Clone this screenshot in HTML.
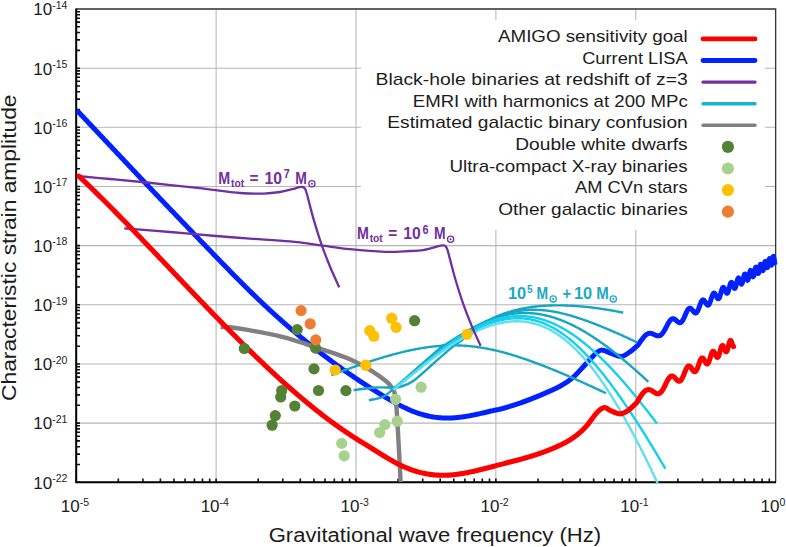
<!DOCTYPE html><html><head><meta charset="utf-8"><style>html,body{margin:0;padding:0;background:#fff;width:786px;height:547px;overflow:hidden}svg{display:block}text{font-family:"Liberation Sans",sans-serif;fill:#1c1c1c}</style></head><body>
<svg width="786" height="547" viewBox="0 0 786 547">
<path d="M76.2,9.0V482.3M216.1,9.0V482.3M356.0,9.0V482.3M495.9,9.0V482.3M635.8,9.0V482.3M775.7,9.0V482.3M76.2,9.0H775.7M76.2,68.2H775.7M76.2,127.3H775.7M76.2,186.5H775.7M76.2,245.6H775.7M76.2,304.8H775.7M76.2,364.0H775.7M76.2,423.1H775.7M76.2,482.3H775.7" stroke="#b6b6b6" stroke-width="1.05" fill="none"/>
<rect x="361" y="20" width="404" height="210" fill="#fff"/>
<path d="M76,68.2H80M76,50.4H80M76,39.9H80M76,32.5H80M76,26.8H80M76,22.1H80M76,18.2H80M76,14.7H80M76,11.7H80M76,127.3H80M76,109.5H80M76,99.1H80M76,91.7H80M76,86.0H80M76,81.3H80M76,77.3H80M76,73.9H80M76,70.9H80M76,186.5H80M76,168.7H80M76,158.3H80M76,150.9H80M76,145.1H80M76,140.4H80M76,136.5H80M76,133.1H80M76,130.0H80M76,245.6H80M76,227.8H80M76,217.4H80M76,210.0H80M76,204.3H80M76,199.6H80M76,195.6H80M76,192.2H80M76,189.2H80M76,304.8H80M76,287.0H80M76,276.6H80M76,269.2H80M76,263.4H80M76,258.8H80M76,254.8H80M76,251.4H80M76,248.3H80M76,364.0H80M76,346.2H80M76,335.7H80M76,328.3H80M76,322.6H80M76,317.9H80M76,314.0H80M76,310.5H80M76,307.5H80M76,423.1H80M76,405.3H80M76,394.9H80M76,387.5H80M76,381.8H80M76,377.1H80M76,373.1H80M76,369.7H80M76,366.7H80M76,482.3H80M76,464.5H80M76,454.1H80M76,446.7H80M76,440.9H80M76,436.2H80M76,432.3H80M76,428.9H80M76,425.8H80M76.2,482V478.6M118.3,482V478.6M142.9,482V478.6M160.4,482V478.6M174.0,482V478.6M185.1,482V478.6M194.4,482V478.6M202.5,482V478.6M209.7,482V478.6M216.1,482V478.6M258.2,482V478.6M282.8,482V478.6M300.3,482V478.6M313.9,482V478.6M325.0,482V478.6M334.3,482V478.6M342.4,482V478.6M349.6,482V478.6M356.0,482V478.6M398.1,482V478.6M422.7,482V478.6M440.2,482V478.6M453.8,482V478.6M464.9,482V478.6M474.2,482V478.6M482.3,482V478.6M489.5,482V478.6M495.9,482V478.6M538.0,482V478.6M562.6,482V478.6M580.1,482V478.6M593.7,482V478.6M604.8,482V478.6M614.1,482V478.6M622.2,482V478.6M629.4,482V478.6M635.8,482V478.6M677.9,482V478.6M702.5,482V478.6M720.0,482V478.6M733.6,482V478.6M744.7,482V478.6M754.0,482V478.6M762.1,482V478.6M769.3,482V478.6" stroke="#111" stroke-width="1.6" fill="none"/>
<path d="M76.2,9H775.6V482.3" stroke="#3a3a3a" stroke-width="1.3" fill="none"/>
<path d="M76.2,8.5V482.3H776" stroke="#000" stroke-width="2" fill="none"/>
<path d="M77.00,110.44 L78.00,111.50 L79.00,112.56 L80.00,113.62 L81.00,114.68 L82.00,115.74 L83.00,116.80 L84.00,117.86 L85.00,118.92 L86.00,119.99 L87.00,121.05 L88.00,122.11 L89.00,123.17 L90.00,124.23 L91.00,125.30 L92.00,126.36 L93.00,127.42 L94.00,128.49 L95.00,129.55 L96.00,130.61 L97.00,131.68 L98.00,132.74 L99.00,133.80 L100.00,134.87 L101.00,135.93 L102.00,136.99 L103.00,138.06 L104.00,139.12 L105.00,140.19 L106.00,141.25 L107.00,142.31 L108.00,143.38 L109.00,144.44 L110.00,145.51 L111.00,146.57 L112.00,147.63 L113.00,148.70 L114.00,149.76 L115.00,150.82 L116.00,151.89 L117.00,152.95 L118.00,154.01 L119.00,155.08 L120.00,156.14 L121.00,157.20 L122.00,158.26 L123.00,159.33 L124.00,160.39 L125.00,161.45 L126.00,162.51 L127.00,163.57 L128.00,164.63 L129.00,165.70 L130.00,166.76 L131.00,167.82 L132.00,168.88 L133.00,169.94 L134.00,171.00 L135.00,172.06 L136.00,173.12 L137.00,174.17 L138.00,175.23 L139.00,176.29 L140.00,177.35 L141.00,178.41 L142.00,179.46 L143.00,180.52 L144.00,181.57 L145.00,182.63 L146.00,183.69 L147.00,184.74 L148.00,185.80 L149.00,186.85 L150.00,187.90 L151.00,188.96 L152.00,190.01 L153.00,191.06 L154.00,192.11 L155.00,193.16 L156.00,194.22 L157.00,195.27 L158.00,196.32 L159.00,197.37 L160.00,198.42 L161.00,199.47 L162.00,200.51 L163.00,201.56 L164.00,202.61 L165.00,203.66 L166.00,204.71 L167.00,205.75 L168.00,206.80 L169.00,207.85 L170.00,208.89 L171.00,209.94 L172.00,210.98 L173.00,212.03 L174.00,213.07 L175.00,214.12 L176.00,215.16 L177.00,216.20 L178.00,217.25 L179.00,218.29 L180.00,219.33 L181.00,220.38 L182.00,221.42 L183.00,222.46 L184.00,223.50 L185.00,224.55 L186.00,225.59 L187.00,226.63 L188.00,227.67 L189.00,228.71 L190.00,229.75 L191.00,230.79 L192.00,231.83 L193.00,232.87 L194.00,233.91 L195.00,234.95 L196.00,235.99 L197.00,237.03 L198.00,238.07 L199.00,239.11 L200.00,240.15 L201.00,241.19 L202.00,242.23 L203.00,243.27 L204.00,244.30 L205.00,245.34 L206.00,246.38 L207.00,247.42 L208.00,248.46 L209.00,249.49 L210.00,250.53 L211.00,251.57 L212.00,252.61 L213.00,253.64 L214.00,254.68 L215.00,255.71 L216.00,256.75 L217.00,257.78 L218.00,258.81 L219.00,259.85 L220.00,260.88 L221.00,261.91 L222.00,262.94 L223.00,263.97 L224.00,265.00 L225.00,266.02 L226.00,267.05 L227.00,268.07 L228.00,269.10 L229.00,270.12 L230.00,271.14 L231.00,272.16 L232.00,273.18 L233.00,274.19 L234.00,275.21 L235.00,276.22 L236.00,277.23 L237.00,278.24 L238.00,279.25 L239.00,280.25 L240.00,281.26 L241.00,282.26 L242.00,283.26 L243.00,284.26 L244.00,285.25 L245.00,286.25 L246.00,287.24 L247.00,288.23 L248.00,289.22 L249.00,290.20 L250.00,291.18 L251.00,292.16 L252.00,293.14 L253.00,294.11 L254.00,295.09 L255.00,296.05 L256.00,297.02 L257.00,297.99 L258.00,298.95 L259.00,299.90 L260.00,300.86 L261.00,301.81 L262.00,302.76 L263.00,303.71 L264.00,304.65 L265.00,305.59 L266.00,306.52 L267.00,307.46 L268.00,308.39 L269.00,309.31 L270.00,310.24 L271.00,311.16 L272.00,312.07 L273.00,312.99 L274.00,313.90 L275.00,314.81 L276.00,315.71 L277.00,316.61 L278.00,317.51 L279.00,318.41 L280.00,319.30 L281.00,320.19 L282.00,321.07 L283.00,321.95 L284.00,322.83 L285.00,323.71 L286.00,324.58 L287.00,325.45 L288.00,326.32 L289.00,327.18 L290.00,328.04 L291.00,328.90 L292.00,329.76 L293.00,330.61 L294.00,331.46 L295.00,332.30 L296.00,333.14 L297.00,333.98 L298.00,334.82 L299.00,335.65 L300.00,336.48 L301.00,337.31 L302.00,338.14 L303.00,338.96 L304.00,339.78 L305.00,340.59 L306.00,341.41 L307.00,342.22 L308.00,343.02 L309.00,343.83 L310.00,344.63 L311.00,345.43 L312.00,346.22 L313.00,347.01 L314.00,347.80 L315.00,348.59 L316.00,349.37 L317.00,350.15 L318.00,350.93 L319.00,351.71 L320.00,352.48 L321.00,353.25 L322.00,354.02 L323.00,354.78 L324.00,355.54 L325.00,356.30 L326.00,357.06 L327.00,357.81 L328.00,358.56 L329.00,359.31 L330.00,360.05 L331.00,360.79 L332.00,361.53 L333.00,362.27 L334.00,363.00 L335.00,363.73 L336.00,364.46 L337.00,365.18 L338.00,365.91 L339.00,366.63 L340.00,367.34 L341.00,368.06 L342.00,368.77 L343.00,369.48 L344.00,370.19 L345.00,370.89 L346.00,371.59 L347.00,372.29 L348.00,372.98 L349.00,373.68 L350.00,374.37 L351.00,375.06 L352.00,375.74 L353.00,376.42 L354.00,377.10 L355.00,377.78 L356.00,378.46 L357.00,379.13 L358.00,379.80 L359.00,380.47 L360.00,381.13 L361.00,381.79 L362.00,382.45 L363.00,383.11 L364.00,383.77 L365.00,384.42 L366.00,385.07 L367.00,385.71 L368.00,386.36 L369.00,387.00 L370.00,387.64 L371.00,388.28 L372.00,388.91 L373.00,389.55 L374.00,390.18 L375.00,390.80 L376.00,391.43 L377.00,392.05 L378.00,392.67 L379.00,393.29 L380.00,393.90 L381.00,394.52 L382.00,395.13 L383.00,395.74 L384.00,396.34 L385.00,396.94 L386.00,397.54 L387.00,398.13 L388.00,398.72 L389.00,399.30 L390.00,399.88 L391.00,400.46 L392.00,401.03 L393.00,401.59 L394.00,402.15 L395.00,402.71 L396.00,403.25 L397.00,403.79 L398.00,404.33 L399.00,404.85 L400.00,405.37 L401.00,405.88 L402.00,406.39 L403.00,406.88 L404.00,407.37 L405.00,407.85 L406.00,408.32 L407.00,408.78 L408.00,409.24 L409.00,409.68 L410.00,410.11 L411.00,410.53 L412.00,410.95 L413.00,411.35 L414.00,411.74 L415.00,412.12 L416.00,412.49 L417.00,412.85 L418.00,413.19 L419.00,413.53 L420.00,413.85 L421.00,414.16 L422.00,414.46 L423.00,414.74 L424.00,415.02 L425.00,415.28 L426.00,415.53 L427.00,415.77 L428.00,415.99 L429.00,416.21 L430.00,416.41 L431.00,416.60 L432.00,416.78 L433.00,416.95 L434.00,417.10 L435.00,417.25 L436.00,417.38 L437.00,417.50 L438.00,417.61 L439.00,417.70 L440.00,417.79 L441.00,417.86 L442.00,417.93 L443.00,417.98 L444.00,418.02 L445.00,418.04 L446.00,418.06 L447.00,418.06 L448.00,418.06 L449.00,418.04 L450.00,418.01 L451.00,417.98 L452.00,417.93 L453.00,417.88 L454.00,417.81 L455.00,417.73 L456.00,417.65 L457.00,417.56 L458.00,417.46 L459.00,417.35 L460.00,417.23 L461.00,417.11 L462.00,416.98 L463.00,416.84 L464.00,416.69 L465.00,416.54 L466.00,416.38 L467.00,416.22 L468.00,416.05 L469.00,415.87 L470.00,415.69 L471.00,415.50 L472.00,415.31 L473.00,415.11 L474.00,414.91 L475.00,414.71 L476.00,414.50 L477.00,414.28 L478.00,414.07 L479.00,413.85 L480.00,413.63 L481.00,413.40 L482.00,413.17 L483.00,412.94 L484.00,412.71 L485.00,412.48 L486.00,412.24 L487.00,412.01 L488.00,411.77 L489.00,411.53 L490.00,411.29 L491.00,411.05 L492.00,410.82 L493.00,410.58 L494.00,410.34 L495.00,410.10 L496.00,409.87 L496.00,410.20 C501.83,408.68 512.67,405.57 520.00,403.10 C527.33,400.63 533.33,398.20 540.00,395.40 C546.67,392.60 554.53,389.27 560.00,386.30 C565.47,383.33 568.53,381.28 572.80,377.60 C577.07,373.92 582.18,367.82 585.60,364.20 C589.02,360.58 590.73,358.25 593.30,355.90 C595.87,353.55 598.02,350.53 601.00,350.10 C603.98,349.67 607.78,352.23 611.20,353.30 C614.62,354.37 618.08,356.93 621.50,356.50 C624.92,356.07 630.00,351.67 631.70,350.70 L638.00,345.19 L638.50,344.45 L639.00,343.71 L639.50,342.97 L640.00,342.22 L640.50,341.49 L641.00,340.76 L641.50,340.05 L642.00,339.35 L642.50,338.68 L643.00,338.03 L643.50,337.41 L644.00,336.82 L644.50,336.27 L645.00,335.76 L645.50,335.29 L646.00,334.87 L646.50,334.49 L647.00,334.17 L647.50,333.89 L648.00,333.67 L648.50,333.50 L649.00,333.38 L649.50,333.31 L650.00,333.29 L650.50,333.31 L651.00,333.38 L651.50,333.49 L652.00,333.64 L652.50,333.82 L653.00,334.02 L653.50,334.24 L654.00,334.47 L654.50,334.71 L655.00,334.94 L655.50,335.17 L656.00,335.37 L656.50,335.56 L657.00,335.70 L657.50,335.81 L658.00,335.87 L658.50,335.87 L659.00,335.81 L659.50,335.68 L660.00,335.48 L660.50,335.21 L661.00,334.86 L661.50,334.43 L662.00,333.92 L662.50,333.33 L663.00,332.67 L663.50,331.94 L664.00,331.15 L664.50,330.30 L665.00,329.41 L665.50,328.48 L666.00,327.53 L666.50,326.56 L667.00,325.60 L667.50,324.65 L668.00,323.73 L668.50,322.85 L669.00,322.03 L669.50,321.27 L670.00,320.60 L670.50,320.02 L671.00,319.53 L671.50,319.15 L672.00,318.88 L672.50,318.73 L673.00,318.68 L673.50,318.73 L674.00,318.89 L674.50,319.14 L675.00,319.46 L675.50,319.84 L676.00,320.27 L676.50,320.72 L677.00,321.17 L677.50,321.60 L678.00,321.99 L678.50,322.32 L679.00,322.56 L679.50,322.70 L680.00,322.72 L680.50,322.61 L681.00,322.35 L681.50,321.95 L682.00,321.40 L682.50,320.70 L683.00,319.87 L683.50,318.92 L684.00,317.87 L684.50,316.75 L685.00,315.59 L685.50,314.41 L686.00,313.24 L686.50,312.13 L687.00,311.11 L687.50,310.19 L688.00,309.43 L688.50,308.82 L689.00,308.40 L689.50,308.16 L690.00,308.12 L690.50,308.26 L691.00,308.57 L691.50,309.02 L692.00,309.58 L692.50,310.21 L693.00,310.88 L693.50,311.52 L694.00,312.10 L694.50,312.57 L695.00,312.88 L695.50,313.00 L696.00,312.90 L696.50,312.57 L697.00,312.00 L697.50,311.20 L698.00,310.19 L698.50,309.01 L699.00,307.70 L699.50,306.33 L700.00,304.94 L700.50,303.62 L701.00,302.42 L701.50,301.40 L702.00,300.61 L702.50,300.09 L703.00,299.86 L703.50,299.92 L704.00,300.25 L704.50,300.82 L705.00,301.55 L705.50,302.40 L706.00,303.26 L706.50,304.06 L707.00,304.71 L707.50,305.13 L708.00,305.26 L708.50,305.05 L709.00,304.50 L709.50,303.60 L710.00,302.41 L710.50,300.99 L711.00,299.44 L711.50,297.85 L712.00,296.34 L712.50,295.02 L713.00,293.99 L713.50,293.33 L714.00,293.06 L714.50,293.21 L715.00,293.73 L715.50,294.55 L716.00,295.56 L716.50,296.63 L717.00,297.61 L717.50,298.36 L718.00,298.77 L718.50,298.75 L719.00,298.25 L719.50,297.28 L720.00,295.91 L720.50,294.26 L721.00,292.47 L721.50,290.73 L722.00,289.22 L722.50,288.08 L723.00,287.43 L723.50,287.33 L724.00,287.77 L724.50,288.65 L725.00,289.82 L725.50,291.08 L726.00,292.21 L726.50,293.01 L727.00,293.31 L727.50,292.99 L728.00,292.06 L728.50,290.58 L729.00,288.73 L729.50,286.75 L730.00,284.89 L730.50,283.42 L731.00,282.52 L731.50,282.32 L732.00,282.82 L732.50,283.87 L733.00,285.27 L733.50,286.70 L734.00,287.85 L734.50,288.45 L735.00,288.30 L735.50,287.36 L736.00,285.73 L736.50,283.67 L737.00,281.50 L737.50,279.62 L738.00,278.34 L738.50,277.89 L739.00,278.32 L739.50,279.48 L740.00,281.06 L740.50,282.65 L741.00,283.81 L741.50,284.19 L742.00,283.61 L742.50,282.10 L743.00,279.95 L743.50,277.59 L744.00,275.53 L744.50,274.23 L745.00,273.97 L745.50,274.74 L746.00,276.29 L746.50,278.12 L747.00,279.64 L747.50,280.33 L748.00,279.88 L748.50,278.31 L749.00,275.96 L749.50,273.43 L750.00,271.40 L750.50,270.40 L751.00,270.68 L751.50,272.08 L752.00,274.05 L752.50,275.87 L753.00,276.80 L753.50,276.40 L754.00,274.67 L754.50,272.09 L755.00,269.45 L755.50,267.59 L756.00,267.10 L756.50,268.08 L757.00,270.07 L757.50,272.20 L758.00,273.49 L758.50,273.30 L759.00,271.54 L759.50,268.77 L760.00,266.01 L760.50,264.30 L761.00,264.27 L761.50,265.83 L762.00,268.17 L762.50,270.11 L763.00,270.59 L763.50,269.21 L764.00,266.43 L764.50,263.43 L765.00,261.52 L765.50,261.52 L766.00,263.31 L766.50,265.85 L767.00,267.65 L767.50,267.57 L768.00,265.45 L768.50,262.23 L769.00,259.52 L769.50,258.68 L770.00,260.06 L770.50,262.71 L771.00,264.89 L771.50,265.10 L772.00,262.96 L772.50,259.57 L773.00,256.85 L773.50,256.35 L774.00,258.24 L774.50,261.11 L775.00,262.84 L775.50,262.00" stroke="#0022ff" stroke-width="5.0" fill="none" stroke-linejoin="round"/>
<path d="M220.60,327.00 C222.17,327.05 225.23,326.77 230.00,327.30 C234.77,327.83 240.67,328.65 249.20,330.20 C257.73,331.75 271.60,334.25 281.20,336.60 C290.80,338.95 299.50,342.02 306.80,344.30 C314.10,346.58 317.73,347.77 325.00,350.30 C332.27,352.83 342.77,356.15 350.40,359.50 C358.03,362.85 364.85,366.78 370.80,370.40 C376.75,374.02 382.70,378.48 386.10,381.20 C389.50,383.92 389.80,384.82 391.20,386.70 C392.60,388.58 393.65,389.45 394.50,392.50 C395.35,395.55 395.68,397.70 396.30,405.00 C396.92,412.30 397.67,427.13 398.20,436.30 C398.73,445.47 399.10,452.38 399.50,460.00 C399.90,467.62 400.42,478.33 400.60,482.00" stroke="#808080" stroke-width="4.4" fill="none"/>
<path d="M331.40,375.18 L332.40,374.80 L333.40,374.43 L334.40,374.05 L335.40,373.67 L336.40,373.30 L337.40,372.92 L338.40,372.55 L339.40,372.18 L340.40,371.81 L341.40,371.44 L342.40,371.07 L343.40,370.70 L344.40,370.34 L345.40,369.97 L346.40,369.61 L347.40,369.24 L348.40,368.88 L349.40,368.52 L350.40,368.17 L351.40,367.81 L352.40,367.45 L353.40,367.10 L354.40,366.75 L355.40,366.39 L356.40,366.04 L357.40,365.70 L358.40,365.35 L359.40,365.00 L360.40,364.66 L361.40,364.32 L362.40,363.98 L363.40,363.64 L364.40,363.30 L365.40,362.97 L366.40,362.63 L367.40,362.30 L368.40,361.97 L369.40,361.64 L370.40,361.32 L371.40,360.99 L372.40,360.67 L373.40,360.35 L374.40,360.03 L375.40,359.72 L376.40,359.40 L377.40,359.09 L378.40,358.78 L379.40,358.47 L380.40,358.17 L381.40,357.87 L382.40,357.56 L383.40,357.27 L384.40,356.97 L385.40,356.68 L386.40,356.39 L387.40,356.10 L388.40,355.81 L389.40,355.53 L390.40,355.25 L391.40,354.97 L392.40,354.70 L393.40,354.43 L394.40,354.16 L395.40,353.89 L396.40,353.63 L397.40,353.37 L398.40,353.11 L399.40,352.86 L400.40,352.61 L401.40,352.36 L402.40,352.11 L403.40,351.87 L404.40,351.64 L405.40,351.40 L406.40,351.17 L407.40,350.95 L408.40,350.72 L409.40,350.50 L410.40,350.29 L411.40,350.08 L412.40,349.87 L413.40,349.66 L414.40,349.46 L415.40,349.27 L416.40,349.08 L417.40,348.89 L418.40,348.71 L419.40,348.53 L420.40,348.35 L421.40,348.18 L422.40,348.01 L423.40,347.85 L424.40,347.70 L425.40,347.54 L426.40,347.40 L427.40,347.25 L428.40,347.12 L429.40,346.98 L430.40,346.85 L431.40,346.73 L432.40,346.61 L433.40,346.50 L434.40,346.39 L435.40,346.29 L436.40,346.19 L437.40,346.10 L438.40,346.01 L439.40,345.93 L440.40,345.85 L441.40,345.78 L442.40,345.72 L443.40,345.66 L444.40,345.61 L445.40,345.56 L446.40,345.51 L447.40,345.48 L448.40,345.45 L449.40,345.42 L450.40,345.40 L451.40,345.39 L452.40,345.38 L453.40,345.37 L454.40,345.38 L455.40,345.39 L456.40,345.40 L457.40,345.42 L458.40,345.45 L459.40,345.48 L460.40,345.52 L461.40,345.57 L462.40,345.62 L463.40,345.67 L464.40,345.73 L465.40,345.80 L466.40,345.88 L467.40,345.96 L468.40,346.04 L469.40,346.13 L470.40,346.23 L471.40,346.33 L472.40,346.44 L473.40,346.56 L474.40,346.68 L475.40,346.80 L476.40,346.93 L477.40,347.07 L478.40,347.21 L479.40,347.36 L480.40,347.51 L481.40,347.67 L482.40,347.84 L483.40,348.01 L484.40,348.18 L485.40,348.36 L486.40,348.55 L487.40,348.74 L488.40,348.93 L489.40,349.13 L490.40,349.34 L491.40,349.55 L492.40,349.76 L493.40,349.98 L494.40,350.21 L495.40,350.44 L496.40,350.67 L497.40,350.91 L498.40,351.15 L499.40,351.40 L500.40,351.65 L501.40,351.91 L502.40,352.17 L503.40,352.43 L504.40,352.70 L505.40,352.97 L506.40,353.25 L507.40,353.53 L508.40,353.82 L509.40,354.10 L510.40,354.40 L511.40,354.69 L512.40,354.99 L513.40,355.30 L514.40,355.60 L515.40,355.91 L516.40,356.23 L517.40,356.55 L518.40,356.87 L519.40,357.19 L520.40,357.52 L521.40,357.85 L522.40,358.18 L523.40,358.52 L524.40,358.86 L525.40,359.20 L526.40,359.55 L527.40,359.90 L528.40,360.25 L529.40,360.60 L530.40,360.96 L531.40,361.32 L532.40,361.68 L533.40,362.04 L534.40,362.41 L535.40,362.78 L536.40,363.15 L537.40,363.53 L538.40,363.91 L539.40,364.29 L540.40,364.67 L541.40,365.05 L542.40,365.44 L543.40,365.83 L544.40,366.22 L545.40,366.61 L546.40,367.00 L547.40,367.40 L548.40,367.80 L549.40,368.20 L550.40,368.60 L551.40,369.01 L552.40,369.41 L553.40,369.82 L554.40,370.23 L555.40,370.64 L556.40,371.06 L557.40,371.47 L558.40,371.89 L559.40,372.31 L560.40,372.73 L561.40,373.15 L562.40,373.57 L563.40,374.00 L564.40,374.43 L565.40,374.85 L566.40,375.28 L567.40,375.71 L568.40,376.15 L569.40,376.58 L570.40,377.01 L571.40,377.45 L572.40,377.89 L573.40,378.33 L574.40,378.77 L575.40,379.21 L576.40,379.65 L577.40,380.09 L578.40,380.54 L579.40,380.99 L580.40,381.43 L581.40,381.88 L582.40,382.33 L583.40,382.78 L584.40,383.23 L585.40,383.69 L586.40,384.14 L587.40,384.59 L588.40,385.05 L589.40,385.51 L590.40,385.96 L591.40,386.42 L592.40,386.88 L593.40,387.34 L594.40,387.81 L595.40,388.27 L596.40,388.73 L597.40,389.20 L598.40,389.66 L599.40,390.13 L600.40,390.59 L601.40,391.06 L602.40,391.53 L603.40,392.00 L604.40,392.47 L605.40,392.94 L606.00,393.22" stroke="#17a6c2" stroke-width="2.4" fill="none" stroke-linejoin="round"/>
<path d="M353.60,390.10 C357.32,389.67 369.28,387.93 375.90,387.50 C382.52,387.07 389.12,387.67 393.30,387.50 C397.48,387.33 397.68,387.58 401.00,386.50 C404.32,385.42 407.88,384.75 413.20,381.00 C418.52,377.25 426.50,369.57 432.90,364.00 C439.30,358.43 446.85,351.50 451.60,347.60 C456.35,343.70 459.60,341.93 461.40,340.60 C463.20,339.27 462.23,339.78 462.40,339.61 L462.40,339.61 L463.40,338.65 L464.40,337.70 L465.40,336.78 L466.40,335.88 L467.40,335.00 L468.40,334.13 L469.40,333.29 L470.40,332.47 L471.40,331.66 L472.40,330.88 L473.40,330.11 L474.40,329.36 L475.40,328.63 L476.40,327.91 L477.40,327.21 L478.40,326.52 L479.40,325.86 L480.40,325.20 L481.40,324.56 L482.40,323.94 L483.40,323.33 L484.40,322.74 L485.40,322.16 L486.40,321.59 L487.40,321.04 L488.40,320.50 L489.40,319.97 L490.40,319.46 L491.40,318.96 L492.40,318.47 L493.40,318.00 L494.40,317.53 L495.40,317.08 L496.40,316.64 L497.40,316.21 L498.40,315.79 L499.40,315.38 L500.40,314.98 L501.40,314.59 L502.40,314.21 L503.40,313.85 L504.40,313.49 L505.40,313.14 L506.40,312.81 L507.40,312.48 L508.40,312.16 L509.40,311.85 L510.40,311.55 L511.40,311.26 L512.40,310.97 L513.40,310.70 L514.40,310.43 L515.40,310.17 L516.40,309.92 L517.40,309.68 L518.40,309.45 L519.40,309.22 L520.40,309.00 L521.40,308.79 L522.40,308.58 L523.40,308.39 L524.40,308.20 L525.40,308.02 L526.40,307.84 L527.40,307.67 L528.40,307.51 L529.40,307.35 L530.40,307.21 L531.40,307.06 L532.40,306.93 L533.40,306.80 L534.40,306.67 L535.40,306.56 L536.40,306.44 L537.40,306.34 L538.40,306.24 L539.40,306.15 L540.40,306.06 L541.40,305.97 L542.40,305.90 L543.40,305.82 L544.40,305.76 L545.40,305.70 L546.40,305.64 L547.40,305.59 L548.40,305.54 L549.40,305.50 L550.40,305.46 L551.40,305.43 L552.40,305.41 L553.40,305.38 L554.40,305.37 L555.40,305.35 L556.40,305.35 L557.40,305.34 L558.40,305.34 L559.40,305.35 L560.40,305.36 L561.40,305.37 L562.40,305.39 L563.40,305.41 L564.40,305.44 L565.40,305.47 L566.40,305.50 L567.40,305.54 L568.40,305.58 L569.40,305.63 L570.40,305.68 L571.40,305.73 L572.40,305.78 L573.40,305.84 L574.40,305.91 L575.40,305.98 L576.40,306.05 L577.40,306.12 L578.40,306.20 L579.40,306.28 L580.40,306.37 L581.40,306.45 L582.40,306.54 L583.40,306.64 L584.40,306.74 L585.40,306.84 L586.40,306.94 L587.40,307.05 L588.40,307.16 L589.40,307.27 L590.40,307.39 L591.40,307.50 L592.40,307.63 L593.40,307.75 L594.40,307.88 L595.40,308.01 L596.40,308.14 L597.40,308.28 L598.40,308.41 L599.40,308.56 L600.40,308.70 L601.40,308.85 L602.40,308.99 L603.40,309.15 L604.40,309.30 L605.40,309.46 L606.40,309.61 L607.40,309.78 L608.40,309.94 L609.40,310.11 L610.40,310.27 L611.40,310.45 L612.40,310.62 L613.40,310.79 L614.40,310.97 L615.40,311.15 L616.40,311.33 L617.40,311.52 L618.40,311.71 L619.40,311.89 L620.40,312.08 L621.40,312.28 L622.40,312.47 L623.20,312.63" stroke="#17a6c2" stroke-width="2.4" fill="none" stroke-linejoin="round"/>
<path d="M368.90,400.30 C371.13,399.75 378.23,398.88 382.30,397.00 C386.37,395.12 383.68,397.15 393.30,389.00 C402.92,380.85 432.05,355.04 440.00,348.11 C447.95,341.19 440.83,347.56 441.00,347.45 L441.00,347.45 L442.00,346.78 L443.00,346.12 L444.00,345.47 L445.00,344.81 L446.00,344.16 L447.00,343.51 L448.00,342.87 L449.00,342.22 L450.00,341.58 L451.00,340.95 L452.00,340.31 L453.00,339.68 L454.00,339.06 L455.00,338.43 L456.00,337.82 L457.00,337.20 L458.00,336.59 L459.00,335.98 L460.00,335.38 L461.00,334.78 L462.00,334.18 L463.00,333.59 L464.00,333.00 L465.00,332.42 L466.00,331.84 L467.00,331.27 L468.00,330.70 L469.00,330.14 L470.00,329.58 L471.00,329.02 L472.00,328.47 L473.00,327.93 L474.00,327.39 L475.00,326.86 L476.00,326.33 L477.00,325.81 L478.00,325.30 L479.00,324.79 L480.00,324.29 L481.00,323.79 L482.00,323.30 L483.00,322.82 L484.00,322.34 L485.00,321.87 L486.00,321.41 L487.00,320.95 L488.00,320.50 L489.00,320.06 L490.00,319.63 L491.00,319.20 L492.00,318.78 L493.00,318.37 L494.00,317.97 L495.00,317.58 L496.00,317.19 L497.00,316.82 L498.00,316.45 L499.00,316.09 L500.00,315.74 L501.00,315.40 L502.00,315.07 L503.00,314.74 L504.00,314.43 L505.00,314.13 L506.00,313.83 L507.00,313.55 L508.00,313.27 L509.00,313.01 L510.00,312.76 L511.00,312.51 L512.00,312.28 L513.00,312.05 L514.00,311.84 L515.00,311.64 L516.00,311.44 L517.00,311.26 L518.00,311.09 L519.00,310.93 L520.00,310.78 L521.00,310.64 L522.00,310.51 L523.00,310.39 L524.00,310.28 L525.00,310.18 L526.00,310.10 L527.00,310.02 L528.00,309.96 L529.00,309.90 L530.00,309.86 L531.00,309.82 L532.00,309.80 L533.00,309.78 L534.00,309.78 L535.00,309.79 L536.00,309.80 L537.00,309.83 L538.00,309.86 L539.00,309.91 L540.00,309.96 L541.00,310.03 L542.00,310.10 L543.00,310.19 L544.00,310.28 L545.00,310.38 L546.00,310.49 L547.00,310.61 L548.00,310.74 L549.00,310.87 L550.00,311.02 L551.00,311.17 L552.00,311.33 L553.00,311.50 L554.00,311.67 L555.00,311.86 L556.00,312.05 L557.00,312.25 L558.00,312.45 L559.00,312.67 L560.00,312.89 L561.00,313.11 L562.00,313.35 L563.00,313.59 L564.00,313.83 L565.00,314.09 L566.00,314.34 L567.00,314.61 L568.00,314.88 L569.00,315.16 L570.00,315.44 L571.00,315.72 L572.00,316.02 L573.00,316.31 L574.00,316.62 L575.00,316.93 L576.00,317.24 L577.00,317.56 L578.00,317.88 L579.00,318.20 L580.00,318.54 L581.00,318.87 L582.00,319.21 L583.00,319.56 L584.00,319.90 L585.00,320.26 L586.00,320.61 L587.00,320.97 L588.00,321.34 L589.00,321.70 L590.00,322.08 L591.00,322.45 L592.00,322.83 L593.00,323.21 L594.00,323.59 L595.00,323.98 L596.00,324.37 L597.00,324.76 L598.00,325.16 L599.00,325.56 L600.00,325.96 L601.00,326.37 L602.00,326.78 L603.00,327.19 L604.00,327.60 L605.00,328.01 L606.00,328.43 L607.00,328.85 L608.00,329.28 L609.00,329.70 L610.00,330.13 L611.00,330.56 L612.00,330.99 L613.00,331.42 L614.00,331.86 L615.00,332.30 L616.00,332.74 L617.00,333.18 L618.00,333.62 L619.00,334.07 L620.00,334.51 L621.00,334.96 L622.00,335.41 L623.00,335.87 L624.00,336.32 L625.00,336.78 L626.00,337.23 L627.00,337.69 L628.00,338.15 L629.00,338.62 L630.00,339.08 L631.00,339.55 L632.00,340.01 L633.00,340.48 L634.00,340.95 L635.00,341.42 L636.00,341.89 L637.00,342.36 L637.20,342.46" stroke="#17a6c2" stroke-width="2.4" fill="none" stroke-linejoin="round"/>
<path d="M393.30,389.20 C397.75,385.59 415.38,371.29 420.00,367.52 C424.62,363.76 420.83,366.76 421.00,366.61 L421.00,366.61 L422.00,365.71 L423.00,364.81 L424.00,363.91 L425.00,363.02 L426.00,362.14 L427.00,361.26 L428.00,360.39 L429.00,359.52 L430.00,358.66 L431.00,357.80 L432.00,356.95 L433.00,356.11 L434.00,355.27 L435.00,354.43 L436.00,353.60 L437.00,352.78 L438.00,351.97 L439.00,351.16 L440.00,350.35 L441.00,349.56 L442.00,348.76 L443.00,347.98 L444.00,347.20 L445.00,346.43 L446.00,345.67 L447.00,344.91 L448.00,344.16 L449.00,343.41 L450.00,342.67 L451.00,341.94 L452.00,341.22 L453.00,340.50 L454.00,339.80 L455.00,339.09 L456.00,338.40 L457.00,337.71 L458.00,337.04 L459.00,336.37 L460.00,335.70 L461.00,335.05 L462.00,334.40 L463.00,333.76 L464.00,333.13 L465.00,332.51 L466.00,331.89 L467.00,331.29 L468.00,330.69 L469.00,330.10 L470.00,329.52 L471.00,328.95 L472.00,328.38 L473.00,327.83 L474.00,327.29 L475.00,326.75 L476.00,326.22 L477.00,325.70 L478.00,325.20 L479.00,324.70 L480.00,324.21 L481.00,323.73 L482.00,323.26 L483.00,322.80 L484.00,322.35 L485.00,321.90 L486.00,321.47 L487.00,321.05 L488.00,320.64 L489.00,320.24 L490.00,319.85 L491.00,319.47 L492.00,319.10 L493.00,318.74 L494.00,318.39 L495.00,318.05 L496.00,317.72 L497.00,317.40 L498.00,317.10 L499.00,316.80 L500.00,316.51 L501.00,316.24 L502.00,315.98 L503.00,315.72 L504.00,315.48 L505.00,315.25 L506.00,315.03 L507.00,314.82 L508.00,314.62 L509.00,314.44 L510.00,314.26 L511.00,314.10 L512.00,313.94 L513.00,313.80 L514.00,313.67 L515.00,313.55 L516.00,313.44 L517.00,313.35 L518.00,313.26 L519.00,313.19 L520.00,313.13 L521.00,313.08 L522.00,313.04 L523.00,313.01 L524.00,312.99 L525.00,312.99 L526.00,312.99 L527.00,313.01 L528.00,313.04 L529.00,313.08 L530.00,313.13 L531.00,313.19 L532.00,313.27 L533.00,313.35 L534.00,313.45 L535.00,313.56 L536.00,313.68 L537.00,313.81 L538.00,313.95 L539.00,314.10 L540.00,314.26 L541.00,314.43 L542.00,314.62 L543.00,314.82 L544.00,315.02 L545.00,315.24 L546.00,315.47 L547.00,315.71 L548.00,315.95 L549.00,316.21 L550.00,316.48 L551.00,316.77 L552.00,317.06 L553.00,317.36 L554.00,317.67 L555.00,317.99 L556.00,318.32 L557.00,318.66 L558.00,319.02 L559.00,319.38 L560.00,319.75 L561.00,320.13 L562.00,320.52 L563.00,320.92 L564.00,321.33 L565.00,321.75 L566.00,322.18 L567.00,322.62 L568.00,323.06 L569.00,323.52 L570.00,323.99 L571.00,324.46 L572.00,324.94 L573.00,325.43 L574.00,325.93 L575.00,326.44 L576.00,326.96 L577.00,327.49 L578.00,328.02 L579.00,328.56 L580.00,329.12 L581.00,329.67 L582.00,330.24 L583.00,330.82 L584.00,331.40 L585.00,331.99 L586.00,332.59 L587.00,333.19 L588.00,333.81 L589.00,334.43 L590.00,335.06 L591.00,335.69 L592.00,336.33 L593.00,336.98 L594.00,337.64 L595.00,338.30 L596.00,338.97 L597.00,339.65 L598.00,340.34 L599.00,341.03 L600.00,341.72 L601.00,342.43 L602.00,343.14 L603.00,343.85 L604.00,344.58 L605.00,345.30 L606.00,346.04 L607.00,346.78 L608.00,347.53 L609.00,348.28 L610.00,349.04 L611.00,349.80 L612.00,350.57 L613.00,351.35 L614.00,352.13 L615.00,352.92 L616.00,353.71 L617.00,354.51 L618.00,355.31 L619.00,356.12 L620.00,356.93 L621.00,357.75 L622.00,358.57 L623.00,359.40 L624.00,360.23 L625.00,361.07 L626.00,361.91 L627.00,362.76 L628.00,363.61 L629.00,364.46 L630.00,365.32 L631.00,366.19 L632.00,367.06 L633.00,367.93 L634.00,368.81 L635.00,369.69 L636.00,370.58 L637.00,371.47 L638.00,372.36 L639.00,373.26 L640.00,374.16 L641.00,375.07 L642.00,375.98 L643.00,376.89 L644.00,377.81 L645.00,378.73 L646.00,379.66 L647.00,380.59 L648.00,381.52 L648.30,381.80" stroke="#17a6c2" stroke-width="2.4" fill="none" stroke-linejoin="round"/>
<path d="M393.30,389.40 C397.75,385.82 415.38,371.65 420.00,367.92 C424.62,364.19 420.83,367.17 421.00,367.03 L421.00,367.03 L422.00,366.13 L423.00,365.25 L424.00,364.37 L425.00,363.49 L426.00,362.62 L427.00,361.76 L428.00,360.90 L429.00,360.05 L430.00,359.20 L431.00,358.35 L432.00,357.52 L433.00,356.69 L434.00,355.86 L435.00,355.04 L436.00,354.23 L437.00,353.42 L438.00,352.62 L439.00,351.82 L440.00,351.03 L441.00,350.25 L442.00,349.48 L443.00,348.71 L444.00,347.94 L445.00,347.19 L446.00,346.44 L447.00,345.69 L448.00,344.96 L449.00,344.23 L450.00,343.51 L451.00,342.79 L452.00,342.08 L453.00,341.38 L454.00,340.69 L455.00,340.01 L456.00,339.33 L457.00,338.66 L458.00,338.00 L459.00,337.34 L460.00,336.70 L461.00,336.06 L462.00,335.43 L463.00,334.81 L464.00,334.19 L465.00,333.59 L466.00,332.99 L467.00,332.40 L468.00,331.82 L469.00,331.25 L470.00,330.69 L471.00,330.14 L472.00,329.60 L473.00,329.06 L474.00,328.54 L475.00,328.02 L476.00,327.52 L477.00,327.02 L478.00,326.53 L479.00,326.06 L480.00,325.59 L481.00,325.13 L482.00,324.69 L483.00,324.25 L484.00,323.82 L485.00,323.41 L486.00,323.00 L487.00,322.61 L488.00,322.22 L489.00,321.85 L490.00,321.49 L491.00,321.13 L492.00,320.79 L493.00,320.46 L494.00,320.14 L495.00,319.84 L496.00,319.54 L497.00,319.26 L498.00,318.98 L499.00,318.72 L500.00,318.47 L501.00,318.23 L502.00,318.01 L503.00,317.79 L504.00,317.59 L505.00,317.40 L506.00,317.22 L507.00,317.06 L508.00,316.90 L509.00,316.76 L510.00,316.63 L511.00,316.52 L512.00,316.41 L513.00,316.32 L514.00,316.25 L515.00,316.18 L516.00,316.13 L517.00,316.09 L518.00,316.06 L519.00,316.05 L520.00,316.05 L521.00,316.06 L522.00,316.08 L523.00,316.12 L524.00,316.17 L525.00,316.24 L526.00,316.32 L527.00,316.41 L528.00,316.51 L529.00,316.63 L530.00,316.76 L531.00,316.90 L532.00,317.06 L533.00,317.23 L534.00,317.41 L535.00,317.61 L536.00,317.82 L537.00,318.05 L538.00,318.28 L539.00,318.53 L540.00,318.80 L541.00,319.08 L542.00,319.37 L543.00,319.67 L544.00,319.99 L545.00,320.32 L546.00,320.66 L547.00,321.02 L548.00,321.38 L549.00,321.77 L550.00,322.16 L551.00,322.57 L552.00,322.99 L553.00,323.43 L554.00,323.87 L555.00,324.33 L556.00,324.81 L557.00,325.29 L558.00,325.79 L559.00,326.30 L560.00,326.82 L561.00,327.36 L562.00,327.91 L563.00,328.47 L564.00,329.04 L565.00,329.63 L566.00,330.22 L567.00,330.83 L568.00,331.45 L569.00,332.08 L570.00,332.73 L571.00,333.39 L572.00,334.05 L573.00,334.73 L574.00,335.42 L575.00,336.13 L576.00,336.84 L577.00,337.56 L578.00,338.30 L579.00,339.05 L580.00,339.80 L581.00,340.57 L582.00,341.35 L583.00,342.14 L584.00,342.94 L585.00,343.75 L586.00,344.57 L587.00,345.40 L588.00,346.25 L589.00,347.10 L590.00,347.96 L591.00,348.83 L592.00,349.71 L593.00,350.60 L594.00,351.50 L595.00,352.41 L596.00,353.33 L597.00,354.26 L598.00,355.20 L599.00,356.15 L600.00,357.10 L601.00,358.07 L602.00,359.04 L603.00,360.03 L604.00,361.02 L605.00,362.02 L606.00,363.03 L607.00,364.04 L608.00,365.07 L609.00,366.10 L610.00,367.14 L611.00,368.19 L612.00,369.25 L613.00,370.31 L614.00,371.38 L615.00,372.46 L616.00,373.55 L617.00,374.65 L618.00,375.75 L619.00,376.86 L620.00,377.98 L621.00,379.10 L622.00,380.23 L623.00,381.37 L624.00,382.51 L625.00,383.67 L626.00,384.82 L627.00,385.99 L628.00,387.16 L629.00,388.34 L630.00,389.52 L631.00,390.71 L632.00,391.91 L633.00,393.11 L634.00,394.32 L635.00,395.53 L636.00,396.75 L637.00,397.98 L638.00,399.21 L639.00,400.45 L640.00,401.69 L641.00,402.94 L642.00,404.20 L643.00,405.46 L644.00,406.72 L645.00,407.99 L646.00,409.27 L647.00,410.55 L648.00,411.83 L649.00,413.12 L650.00,414.42 L651.00,415.72 L652.00,417.03 L653.00,418.34 L654.00,419.65 L655.00,420.97 L656.00,422.29 L657.00,423.62" stroke="#14d0ec" stroke-width="2.4" fill="none" stroke-linejoin="round"/>
<path d="M393.30,389.60 C397.75,386.01 415.38,371.77 420.00,368.03 C424.62,364.30 420.83,367.33 421.00,367.19 L421.00,367.19 L422.00,366.35 L423.00,365.52 L424.00,364.69 L425.00,363.87 L426.00,363.05 L427.00,362.23 L428.00,361.42 L429.00,360.61 L430.00,359.81 L431.00,359.01 L432.00,358.22 L433.00,357.43 L434.00,356.65 L435.00,355.87 L436.00,355.10 L437.00,354.33 L438.00,353.57 L439.00,352.81 L440.00,352.06 L441.00,351.31 L442.00,350.57 L443.00,349.84 L444.00,349.11 L445.00,348.38 L446.00,347.67 L447.00,346.95 L448.00,346.25 L449.00,345.55 L450.00,344.85 L451.00,344.17 L452.00,343.49 L453.00,342.81 L454.00,342.14 L455.00,341.48 L456.00,340.83 L457.00,340.18 L458.00,339.54 L459.00,338.90 L460.00,338.28 L461.00,337.66 L462.00,337.04 L463.00,336.44 L464.00,335.84 L465.00,335.25 L466.00,334.67 L467.00,334.10 L468.00,333.53 L469.00,332.97 L470.00,332.42 L471.00,331.88 L472.00,331.35 L473.00,330.83 L474.00,330.31 L475.00,329.81 L476.00,329.31 L477.00,328.82 L478.00,328.34 L479.00,327.87 L480.00,327.41 L481.00,326.96 L482.00,326.52 L483.00,326.09 L484.00,325.67 L485.00,325.25 L486.00,324.85 L487.00,324.46 L488.00,324.08 L489.00,323.71 L490.00,323.35 L491.00,323.01 L492.00,322.67 L493.00,322.34 L494.00,322.03 L495.00,321.73 L496.00,321.44 L497.00,321.16 L498.00,320.89 L499.00,320.63 L500.00,320.39 L501.00,320.16 L502.00,319.94 L503.00,319.73 L504.00,319.54 L505.00,319.36 L506.00,319.19 L507.00,319.03 L508.00,318.89 L509.00,318.76 L510.00,318.64 L511.00,318.54 L512.00,318.45 L513.00,318.38 L514.00,318.32 L515.00,318.27 L516.00,318.24 L517.00,318.22 L518.00,318.22 L519.00,318.23 L520.00,318.25 L521.00,318.29 L522.00,318.35 L523.00,318.42 L524.00,318.50 L525.00,318.60 L526.00,318.72 L527.00,318.85 L528.00,318.99 L529.00,319.16 L530.00,319.33 L531.00,319.52 L532.00,319.73 L533.00,319.96 L534.00,320.19 L535.00,320.45 L536.00,320.72 L537.00,321.01 L538.00,321.31 L539.00,321.63 L540.00,321.97 L541.00,322.32 L542.00,322.68 L543.00,323.07 L544.00,323.47 L545.00,323.88 L546.00,324.31 L547.00,324.76 L548.00,325.23 L549.00,325.71 L550.00,326.21 L551.00,326.72 L552.00,327.25 L553.00,327.79 L554.00,328.35 L555.00,328.93 L556.00,329.53 L557.00,330.14 L558.00,330.76 L559.00,331.40 L560.00,332.06 L561.00,332.73 L562.00,333.42 L563.00,334.13 L564.00,334.85 L565.00,335.58 L566.00,336.34 L567.00,337.10 L568.00,337.89 L569.00,338.68 L570.00,339.50 L571.00,340.32 L572.00,341.17 L573.00,342.02 L574.00,342.90 L575.00,343.78 L576.00,344.68 L577.00,345.60 L578.00,346.53 L579.00,347.47 L580.00,348.43 L581.00,349.41 L582.00,350.39 L583.00,351.39 L584.00,352.41 L585.00,353.43 L586.00,354.47 L587.00,355.53 L588.00,356.60 L589.00,357.68 L590.00,358.77 L591.00,359.87 L592.00,360.99 L593.00,362.12 L594.00,363.27 L595.00,364.42 L596.00,365.59 L597.00,366.77 L598.00,367.96 L599.00,369.16 L600.00,370.37 L601.00,371.60 L602.00,372.84 L603.00,374.08 L604.00,375.34 L605.00,376.61 L606.00,377.89 L607.00,379.18 L608.00,380.49 L609.00,381.80 L610.00,383.12 L611.00,384.45 L612.00,385.79 L613.00,387.14 L614.00,388.51 L615.00,389.88 L616.00,391.26 L617.00,392.65 L618.00,394.04 L619.00,395.45 L620.00,396.87 L621.00,398.29 L622.00,399.73 L623.00,401.17 L624.00,402.62 L625.00,404.08 L626.00,405.55 L627.00,407.02 L628.00,408.51 L629.00,410.00 L630.00,411.50 L631.00,413.01 L632.00,414.52 L633.00,416.04 L634.00,417.57 L635.00,419.11 L636.00,420.65 L637.00,422.20 L638.00,423.76 L639.00,425.32 L640.00,426.89 L641.00,428.47 L642.00,430.06 L643.00,431.65 L644.00,433.24 L645.00,434.85 L646.00,436.45 L647.00,438.07 L648.00,439.69 L649.00,441.32 L650.00,442.95 L651.00,444.59 L652.00,446.23 L653.00,447.88 L654.00,449.54 L655.00,451.20 L656.00,452.87 L657.00,454.54 L658.00,456.21 L659.00,457.90 L660.00,459.58 L661.00,461.27 L662.00,462.97 L663.00,464.67 L664.00,466.38 L665.00,468.09 L665.30,468.60" stroke="#14d0ec" stroke-width="2.4" fill="none" stroke-linejoin="round"/>
<path d="M393.30,389.80 C397.75,386.23 415.38,372.07 420.00,368.36 C424.62,364.65 420.83,367.68 421.00,367.54 L421.00,367.54 L422.00,366.74 L423.00,365.93 L424.00,365.13 L425.00,364.33 L426.00,363.54 L427.00,362.76 L428.00,361.97 L429.00,361.20 L430.00,360.42 L431.00,359.66 L432.00,358.90 L433.00,358.14 L434.00,357.39 L435.00,356.64 L436.00,355.90 L437.00,355.16 L438.00,354.43 L439.00,353.70 L440.00,352.98 L441.00,352.27 L442.00,351.56 L443.00,350.86 L444.00,350.16 L445.00,349.47 L446.00,348.78 L447.00,348.10 L448.00,347.43 L449.00,346.76 L450.00,346.10 L451.00,345.44 L452.00,344.80 L453.00,344.15 L454.00,343.52 L455.00,342.89 L456.00,342.27 L457.00,341.65 L458.00,341.05 L459.00,340.45 L460.00,339.85 L461.00,339.26 L462.00,338.69 L463.00,338.11 L464.00,337.55 L465.00,336.99 L466.00,336.44 L467.00,335.90 L468.00,335.37 L469.00,334.84 L470.00,334.33 L471.00,333.82 L472.00,333.32 L473.00,332.82 L474.00,332.34 L475.00,331.86 L476.00,331.40 L477.00,330.94 L478.00,330.49 L479.00,330.05 L480.00,329.62 L481.00,329.20 L482.00,328.79 L483.00,328.39 L484.00,327.99 L485.00,327.61 L486.00,327.24 L487.00,326.88 L488.00,326.52 L489.00,326.18 L490.00,325.85 L491.00,325.53 L492.00,325.22 L493.00,324.92 L494.00,324.63 L495.00,324.35 L496.00,324.08 L497.00,323.82 L498.00,323.58 L499.00,323.35 L500.00,323.13 L501.00,322.92 L502.00,322.72 L503.00,322.53 L504.00,322.36 L505.00,322.20 L506.00,322.05 L507.00,321.91 L508.00,321.79 L509.00,321.68 L510.00,321.58 L511.00,321.50 L512.00,321.43 L513.00,321.37 L514.00,321.32 L515.00,321.29 L516.00,321.28 L517.00,321.27 L518.00,321.29 L519.00,321.31 L520.00,321.35 L521.00,321.40 L522.00,321.47 L523.00,321.56 L524.00,321.66 L525.00,321.77 L526.00,321.90 L527.00,322.04 L528.00,322.20 L529.00,322.37 L530.00,322.56 L531.00,322.77 L532.00,322.99 L533.00,323.23 L534.00,323.48 L535.00,323.75 L536.00,324.04 L537.00,324.34 L538.00,324.66 L539.00,324.99 L540.00,325.34 L541.00,325.71 L542.00,326.10 L543.00,326.50 L544.00,326.92 L545.00,327.36 L546.00,327.81 L547.00,328.28 L548.00,328.77 L549.00,329.28 L550.00,329.80 L551.00,330.34 L552.00,330.90 L553.00,331.48 L554.00,332.07 L555.00,332.68 L556.00,333.31 L557.00,333.96 L558.00,334.63 L559.00,335.31 L560.00,336.01 L561.00,336.73 L562.00,337.47 L563.00,338.23 L564.00,339.00 L565.00,339.80 L566.00,340.61 L567.00,341.43 L568.00,342.28 L569.00,343.15 L570.00,344.03 L571.00,344.93 L572.00,345.85 L573.00,346.79 L574.00,347.75 L575.00,348.72 L576.00,349.71 L577.00,350.72 L578.00,351.75 L579.00,352.80 L580.00,353.86 L581.00,354.94 L582.00,356.04 L583.00,357.16 L584.00,358.29 L585.00,359.45 L586.00,360.62 L587.00,361.80 L588.00,363.01 L589.00,364.23 L590.00,365.47 L591.00,366.73 L592.00,368.00 L593.00,369.29 L594.00,370.60 L595.00,371.93 L596.00,373.27 L597.00,374.62 L598.00,376.00 L599.00,377.39 L600.00,378.80 L601.00,380.22 L602.00,381.66 L603.00,383.12 L604.00,384.59 L605.00,386.08 L606.00,387.58 L607.00,389.10 L608.00,390.63 L609.00,392.18 L610.00,393.74 L611.00,395.32 L612.00,396.92 L613.00,398.53 L614.00,400.15 L615.00,401.79 L616.00,403.44 L617.00,405.11 L618.00,406.79 L619.00,408.48 L620.00,410.19 L621.00,411.91 L622.00,413.65 L623.00,415.40 L624.00,417.16 L625.00,418.94 L626.00,420.73 L627.00,422.53 L628.00,424.35 L629.00,426.17 L630.00,428.01 L631.00,429.87 L632.00,431.73 L633.00,433.61 L634.00,435.50 L635.00,437.40 L636.00,439.31 L637.00,441.23 L638.00,443.17 L639.00,445.11 L640.00,447.07 L641.00,449.04 L642.00,451.02 L643.00,453.01 L644.00,455.01 L645.00,457.03 L646.00,459.05 L647.00,461.08 L648.00,463.12 L649.00,465.18 L650.00,467.24 L651.00,469.31 L652.00,471.40 L653.00,473.49 L654.00,475.59 L655.00,477.70 L656.00,479.82 L657.00,481.95 L657.60,483.23" stroke="#5fdff3" stroke-width="2.4" fill="none" stroke-linejoin="round"/>
<path d="M77.50,176.00 C82.92,176.50 98.45,177.92 110.00,179.00 C121.55,180.08 132.63,181.05 146.80,182.50 C160.97,183.95 183.47,186.42 195.00,187.70 C206.53,188.98 208.50,189.32 216.00,190.20 C223.50,191.08 232.03,192.43 240.00,193.00 C247.97,193.57 257.13,193.77 263.80,193.60 C270.47,193.43 275.30,192.73 280.00,192.00 C284.70,191.27 288.77,190.00 292.00,189.20 C295.23,188.40 297.65,187.57 299.40,187.20 C301.15,186.83 301.65,186.87 302.50,187.00 C303.35,187.13 303.88,187.25 304.50,188.00 C305.12,188.75 305.45,189.17 306.20,191.50 C306.95,193.83 307.75,197.32 309.00,202.00 C310.25,206.68 311.53,212.30 313.70,219.60 C315.87,226.90 319.23,237.87 322.00,245.80 C324.77,253.73 327.42,260.27 330.30,267.20 C333.18,274.13 337.80,284.03 339.30,287.40" stroke="#7030a0" stroke-width="2.3" fill="none"/>
<path d="M124.30,228.30 C131.92,228.92 154.72,230.72 170.00,232.00 C185.28,233.28 202.67,234.90 216.00,236.00 C229.33,237.10 237.67,237.70 250.00,238.60 C262.33,239.50 278.20,240.28 290.00,241.40 C301.80,242.52 310.80,244.00 320.80,245.30 C330.80,246.60 339.32,248.12 350.00,249.20 C360.68,250.28 374.90,251.50 384.90,251.80 C394.90,252.10 403.93,251.23 410.00,251.00 C416.07,250.77 417.42,250.97 421.30,250.40 C425.18,249.83 430.07,248.40 433.30,247.60 C436.53,246.80 438.95,245.97 440.70,245.60 C442.45,245.23 442.95,245.27 443.80,245.40 C444.65,245.53 445.18,245.65 445.80,246.40 C446.42,247.15 446.75,247.57 447.50,249.90 C448.25,252.23 449.05,255.72 450.30,260.40 C451.55,265.08 452.83,270.70 455.00,278.00 C457.17,285.30 460.53,296.27 463.30,304.20 C466.07,312.13 468.72,318.67 471.60,325.60 C474.48,332.53 479.10,342.43 480.60,345.80" stroke="#7030a0" stroke-width="2.3" fill="none"/>
<path d="M79.00,176.23 L80.00,177.18 L81.00,178.13 L82.00,179.08 L83.00,180.03 L84.00,180.99 L85.00,181.95 L86.00,182.91 L87.00,183.87 L88.00,184.84 L89.00,185.81 L90.00,186.77 L91.00,187.75 L92.00,188.72 L93.00,189.69 L94.00,190.67 L95.00,191.65 L96.00,192.63 L97.00,193.61 L98.00,194.60 L99.00,195.59 L100.00,196.57 L101.00,197.56 L102.00,198.56 L103.00,199.55 L104.00,200.54 L105.00,201.54 L106.00,202.54 L107.00,203.54 L108.00,204.54 L109.00,205.54 L110.00,206.55 L111.00,207.56 L112.00,208.56 L113.00,209.57 L114.00,210.58 L115.00,211.59 L116.00,212.61 L117.00,213.62 L118.00,214.64 L119.00,215.66 L120.00,216.68 L121.00,217.70 L122.00,218.72 L123.00,219.74 L124.00,220.76 L125.00,221.79 L126.00,222.81 L127.00,223.84 L128.00,224.87 L129.00,225.90 L130.00,226.93 L131.00,227.96 L132.00,228.99 L133.00,230.03 L134.00,231.06 L135.00,232.10 L136.00,233.13 L137.00,234.17 L138.00,235.21 L139.00,236.25 L140.00,237.29 L141.00,238.33 L142.00,239.37 L143.00,240.41 L144.00,241.45 L145.00,242.49 L146.00,243.54 L147.00,244.58 L148.00,245.63 L149.00,246.67 L150.00,247.72 L151.00,248.77 L152.00,249.81 L153.00,250.86 L154.00,251.91 L155.00,252.96 L156.00,254.01 L157.00,255.06 L158.00,256.11 L159.00,257.16 L160.00,258.21 L161.00,259.26 L162.00,260.31 L163.00,261.36 L164.00,262.41 L165.00,263.46 L166.00,264.51 L167.00,265.56 L168.00,266.62 L169.00,267.67 L170.00,268.72 L171.00,269.77 L172.00,270.83 L173.00,271.88 L174.00,272.93 L175.00,273.98 L176.00,275.03 L177.00,276.08 L178.00,277.14 L179.00,278.19 L180.00,279.24 L181.00,280.29 L182.00,281.34 L183.00,282.39 L184.00,283.44 L185.00,284.49 L186.00,285.54 L187.00,286.59 L188.00,287.64 L189.00,288.69 L190.00,289.74 L191.00,290.79 L192.00,291.83 L193.00,292.88 L194.00,293.93 L195.00,294.97 L196.00,296.02 L197.00,297.06 L198.00,298.10 L199.00,299.15 L200.00,300.19 L201.00,301.23 L202.00,302.27 L203.00,303.31 L204.00,304.35 L205.00,305.39 L206.00,306.43 L207.00,307.47 L208.00,308.50 L209.00,309.54 L210.00,310.57 L211.00,311.60 L212.00,312.64 L213.00,313.67 L214.00,314.70 L215.00,315.73 L216.00,316.76 L217.00,317.78 L218.00,318.81 L219.00,319.83 L220.00,320.86 L221.00,321.88 L222.00,322.90 L223.00,323.92 L224.00,324.94 L225.00,325.96 L226.00,326.97 L227.00,327.99 L228.00,329.00 L229.00,330.02 L230.00,331.03 L231.00,332.04 L232.00,333.04 L233.00,334.05 L234.00,335.05 L235.00,336.06 L236.00,337.06 L237.00,338.06 L238.00,339.06 L239.00,340.05 L240.00,341.05 L241.00,342.04 L242.00,343.03 L243.00,344.02 L244.00,345.01 L245.00,346.00 L246.00,346.98 L247.00,347.97 L248.00,348.95 L249.00,349.93 L250.00,350.90 L251.00,351.88 L252.00,352.85 L253.00,353.82 L254.00,354.79 L255.00,355.76 L256.00,356.73 L257.00,357.69 L258.00,358.65 L259.00,359.61 L260.00,360.56 L261.00,361.52 L262.00,362.47 L263.00,363.42 L264.00,364.37 L265.00,365.31 L266.00,366.26 L267.00,367.20 L268.00,368.14 L269.00,369.07 L270.00,370.01 L271.00,370.94 L272.00,371.87 L273.00,372.79 L274.00,373.72 L275.00,374.64 L276.00,375.56 L277.00,376.47 L278.00,377.39 L279.00,378.30 L280.00,379.21 L281.00,380.11 L282.00,381.02 L283.00,381.92 L284.00,382.81 L285.00,383.71 L286.00,384.60 L287.00,385.49 L288.00,386.38 L289.00,387.26 L290.00,388.14 L291.00,389.02 L292.00,389.89 L293.00,390.76 L294.00,391.63 L295.00,392.50 L296.00,393.36 L297.00,394.22 L298.00,395.08 L299.00,395.93 L300.00,396.78 L301.00,397.63 L302.00,398.47 L303.00,399.31 L304.00,400.15 L305.00,400.98 L306.00,401.81 L307.00,402.64 L308.00,403.47 L309.00,404.29 L310.00,405.10 L311.00,405.92 L312.00,406.73 L313.00,407.54 L314.00,408.34 L315.00,409.14 L316.00,409.94 L317.00,410.73 L318.00,411.52 L319.00,412.30 L320.00,413.09 L321.00,413.86 L322.00,414.64 L323.00,415.41 L324.00,416.18 L325.00,416.94 L326.00,417.70 L327.00,418.46 L328.00,419.21 L329.00,419.96 L330.00,420.70 L331.00,421.44 L332.00,422.18 L333.00,422.91 L334.00,423.64 L335.00,424.36 L336.00,425.08 L337.00,425.80 L338.00,426.51 L339.00,427.22 L340.00,427.92 L341.00,428.62 L342.00,429.32 L343.00,430.01 L344.00,430.70 L345.00,431.38 L346.00,432.06 L347.00,432.73 L348.00,433.40 L349.00,434.07 L350.00,434.73 L351.00,435.39 L352.00,436.04 L353.00,436.69 L354.00,437.33 L355.00,437.97 L356.00,438.60 L357.00,439.23 L358.00,439.86 L359.00,440.48 L360.00,441.10 L361.00,441.72 L362.00,442.33 L363.00,442.95 L364.00,443.56 L365.00,444.17 L366.00,444.78 L367.00,445.40 L368.00,446.01 L369.00,446.63 L370.00,447.25 L371.00,447.87 L372.00,448.49 L373.00,449.12 L374.00,449.75 L375.00,450.38 L376.00,451.00 L377.00,451.63 L378.00,452.26 L379.00,452.89 L380.00,453.51 L381.00,454.14 L382.00,454.76 L383.00,455.37 L384.00,455.99 L385.00,456.60 L386.00,457.20 L387.00,457.81 L388.00,458.40 L389.00,458.99 L390.00,459.58 L391.00,460.15 L392.00,460.72 L393.00,461.28 L394.00,461.84 L395.00,462.38 L396.00,462.92 L397.00,463.45 L398.00,463.96 L399.00,464.47 L400.00,464.96 L401.00,465.44 L402.00,465.91 L403.00,466.37 L404.00,466.82 L405.00,467.26 L406.00,467.68 L407.00,468.09 L408.00,468.49 L409.00,468.88 L410.00,469.26 L411.00,469.63 L412.00,469.98 L413.00,470.32 L414.00,470.65 L415.00,470.97 L416.00,471.28 L417.00,471.58 L418.00,471.86 L419.00,472.14 L420.00,472.40 L421.00,472.65 L422.00,472.89 L423.00,473.12 L424.00,473.33 L425.00,473.54 L426.00,473.73 L427.00,473.91 L428.00,474.08 L429.00,474.24 L430.00,474.39 L431.00,474.53 L432.00,474.65 L433.00,474.77 L434.00,474.87 L435.00,474.96 L436.00,475.04 L437.00,475.11 L438.00,475.17 L439.00,475.22 L440.00,475.25 L441.00,475.28 L442.00,475.29 L443.00,475.29 L444.00,475.29 L445.00,475.27 L446.00,475.24 L447.00,475.20 L448.00,475.15 L449.00,475.10 L450.00,475.03 L451.00,474.95 L452.00,474.87 L453.00,474.77 L454.00,474.67 L455.00,474.56 L456.00,474.44 L457.00,474.31 L458.00,474.18 L459.00,474.04 L460.00,473.89 L461.00,473.73 L462.00,473.57 L463.00,473.40 L464.00,473.23 L465.00,473.05 L466.00,472.86 L467.00,472.67 L468.00,472.47 L469.00,472.27 L470.00,472.06 L471.00,471.85 L472.00,471.63 L473.00,471.41 L474.00,471.18 L475.00,470.95 L476.00,470.72 L477.00,470.48 L478.00,470.24 L479.00,470.00 L480.00,469.76 L481.00,469.51 L482.00,469.26 L483.00,469.01 L484.00,468.75 L485.00,468.50 L486.00,468.24 L487.00,467.98 L488.00,467.72 L489.00,467.46 L490.00,467.20 L491.00,466.94 L492.00,466.68 L493.00,466.42 L494.00,466.16 L495.00,465.90 L496.00,465.64 L497.00,465.39 L498.00,465.13 L499.00,464.87 L500.00,464.62 L501.00,464.36 L502.00,464.11 L503.00,463.85 L504.00,463.60 L505.00,463.35 L506.00,463.09 L507.00,462.84 L508.00,462.58 L509.00,462.33 L510.00,462.07 L511.00,461.81 L512.00,461.55 L513.00,461.29 L514.00,461.03 L515.00,460.77 L516.00,460.51 L517.00,460.24 L518.00,459.97 L519.00,459.70 L520.00,459.43 L521.00,459.16 L522.00,458.88 L523.00,458.60 L524.00,458.32 L525.00,458.03 L526.00,457.75 L527.00,457.46 L528.00,457.16 L529.00,456.86 L530.00,456.56 L531.00,456.26 L532.00,455.95 L533.00,455.64 L534.00,455.32 L535.00,455.00 L536.00,454.68 L537.00,454.35 L538.00,454.01 L539.00,453.68 L540.00,453.33 L541.00,452.98 L542.00,452.63 L543.00,452.27 L544.00,451.91 L545.00,451.54 L546.00,451.16 L547.00,450.78 L548.00,450.39 L549.00,450.00 L550.00,449.60 L551.00,449.19 L552.00,448.78 L553.00,448.36 L554.00,447.93 L555.00,447.50 L556.00,447.05 L557.00,446.61 L558.00,446.15 L559.00,445.69 L560.00,445.22 L561.00,444.74 L562.00,444.25 L563.00,443.74 L564.00,443.23 L565.00,442.70 L566.00,442.16 L567.00,441.60 L568.00,441.02 L569.00,440.43 L570.00,439.82 L571.00,439.18 L572.00,438.53 L573.00,437.86 L574.00,437.16 L575.00,436.43 L576.00,435.68 L577.00,434.91 L578.00,434.11 L579.00,433.28 L580.00,432.42 L581.00,431.52 L582.00,430.60 L583.00,429.64 L584.00,428.65 L585.00,427.63 L586.00,426.57 L587.00,425.47 L587.90,424.45 L587.90,424.30 C591.10,420.67 594.07,415.58 596.80,412.80 C599.53,410.02 602.10,408.02 604.30,407.60 C606.50,407.18 607.37,409.25 610.00,410.30 C612.63,411.35 617.10,413.87 620.10,413.90 C623.10,413.93 625.25,412.33 628.00,410.50 C630.75,408.67 635.17,404.17 636.60,402.90 L641.00,395.67 L641.50,394.96 L642.00,394.28 L642.50,393.63 L643.00,393.02 L643.50,392.45 L644.00,391.93 L644.50,391.45 L645.00,391.03 L645.50,390.65 L646.00,390.34 L646.50,390.08 L647.00,389.88 L647.50,389.74 L648.00,389.65 L648.50,389.63 L649.00,389.66 L649.50,389.74 L650.00,389.88 L650.50,390.06 L651.00,390.28 L651.50,390.54 L652.00,390.83 L652.50,391.14 L653.00,391.47 L653.50,391.81 L654.00,392.14 L654.50,392.46 L655.00,392.77 L655.50,393.05 L656.00,393.29 L656.50,393.49 L657.00,393.64 L657.50,393.72 L658.00,393.73 L658.50,393.67 L659.00,393.53 L659.50,393.31 L660.00,393.00 L660.50,392.60 L661.00,392.11 L661.50,391.53 L662.00,390.87 L662.50,390.12 L663.00,389.31 L663.50,388.43 L664.00,387.50 L664.50,386.52 L665.00,385.51 L665.50,384.48 L666.00,383.45 L666.50,382.44 L667.00,381.45 L667.50,380.50 L668.00,379.61 L668.50,378.80 L669.00,378.07 L669.50,377.44 L670.00,376.92 L670.50,376.52 L671.00,376.23 L671.50,376.07 L672.00,376.04 L672.50,376.12 L673.00,376.31 L673.50,376.61 L674.00,377.00 L674.50,377.46 L675.00,377.97 L675.50,378.52 L676.00,379.07 L676.50,379.61 L677.00,380.11 L677.50,380.55 L678.00,380.89 L678.50,381.13 L679.00,381.24 L679.50,381.21 L680.00,381.01 L680.50,380.66 L681.00,380.14 L681.50,379.46 L682.00,378.63 L682.50,377.66 L683.00,376.57 L683.50,375.40 L684.00,374.17 L684.50,372.91 L685.00,371.66 L685.50,370.45 L686.00,369.33 L686.50,368.33 L687.00,367.47 L687.50,366.79 L688.00,366.30 L688.50,366.02 L689.00,365.95 L689.50,366.09 L690.00,366.41 L690.50,366.90 L691.00,367.53 L691.50,368.24 L692.00,369.00 L692.50,369.76 L693.00,370.45 L693.50,371.04 L694.00,371.47 L694.50,371.70 L695.00,371.71 L695.50,371.46 L696.00,370.94 L696.50,370.18 L697.00,369.17 L697.50,367.97 L698.00,366.62 L698.50,365.16 L699.00,363.69 L699.50,362.25 L700.00,360.93 L700.50,359.79 L701.00,358.88 L701.50,358.26 L702.00,357.94 L702.50,357.95 L703.00,358.25 L703.50,358.82 L704.00,359.60 L704.50,360.51 L705.00,361.48 L705.50,362.40 L706.00,363.18 L706.50,363.74 L707.00,364.00 L707.50,363.92 L708.00,363.46 L708.50,362.62 L709.00,361.46 L709.50,360.02 L710.00,358.40 L710.50,356.72 L711.00,355.08 L711.50,353.62 L712.00,352.43 L712.50,351.62 L713.00,351.22 L713.50,351.27 L714.00,351.74 L714.50,352.55 L715.00,353.60 L715.50,354.75 L716.00,355.86 L716.50,356.77 L717.00,357.35 L717.50,357.48 L718.00,357.12 L718.50,356.25 L719.00,354.93 L719.50,353.26 L720.00,351.41 L720.50,349.54 L721.00,347.85 L721.50,346.52 L722.00,345.69 L722.50,345.42 L723.00,345.73 L723.50,346.54 L724.00,347.72 L724.50,349.06 L725.00,350.33 L725.50,351.32 L726.00,351.81 L726.50,351.69 L727.00,350.91 L727.50,349.52 L728.00,347.68 L728.50,345.61 L729.00,343.60 L729.50,341.91 L730.00,340.78 L730.50,340.35 L731.00,340.66 L731.50,341.62 L732.00,343.01 L732.50,344.53 L733.00,345.86 L733.50,346.69" stroke="#ff0000" stroke-width="5.1" fill="none" stroke-linejoin="round" stroke-linecap="round"/>
<circle cx="244.3" cy="348.5" r="5.6" fill="#548235"/>
<circle cx="297.2" cy="329.6" r="5.6" fill="#548235"/>
<circle cx="315.5" cy="348.1" r="5.6" fill="#548235"/>
<circle cx="314.0" cy="368.9" r="5.6" fill="#548235"/>
<circle cx="281.7" cy="390.5" r="5.6" fill="#548235"/>
<circle cx="280.7" cy="397.0" r="5.6" fill="#548235"/>
<circle cx="294.8" cy="406.0" r="5.6" fill="#548235"/>
<circle cx="318.5" cy="390.5" r="5.6" fill="#548235"/>
<circle cx="345.9" cy="390.6" r="5.6" fill="#548235"/>
<circle cx="275.3" cy="415.6" r="5.6" fill="#548235"/>
<circle cx="272.1" cy="425.2" r="5.6" fill="#548235"/>
<circle cx="414.6" cy="320.7" r="5.6" fill="#548235"/>
<circle cx="421.1" cy="387.2" r="5.6" fill="#a9d18e"/>
<circle cx="395.6" cy="399.3" r="5.6" fill="#a9d18e"/>
<circle cx="397.2" cy="421.2" r="5.6" fill="#a9d18e"/>
<circle cx="384.8" cy="424.6" r="5.6" fill="#a9d18e"/>
<circle cx="379.7" cy="432.5" r="5.6" fill="#a9d18e"/>
<circle cx="341.7" cy="443.4" r="5.6" fill="#a9d18e"/>
<circle cx="344.2" cy="455.8" r="5.6" fill="#a9d18e"/>
<circle cx="335.2" cy="370.0" r="5.6" fill="#ffc000"/>
<circle cx="365.7" cy="365.2" r="5.6" fill="#ffc000"/>
<circle cx="369.8" cy="330.7" r="5.6" fill="#ffc000"/>
<circle cx="373.9" cy="336.2" r="5.6" fill="#ffc000"/>
<circle cx="391.7" cy="318.2" r="5.6" fill="#ffc000"/>
<circle cx="396.1" cy="327.3" r="5.6" fill="#ffc000"/>
<circle cx="467.0" cy="334.3" r="5.6" fill="#ffc000"/>
<circle cx="301.1" cy="310.6" r="5.6" fill="#ed7d31"/>
<circle cx="310.2" cy="323.8" r="5.6" fill="#ed7d31"/>
<circle cx="315.8" cy="339.9" r="5.6" fill="#ed7d31"/>
<text x="218.3" y="183.7" font-size="15.8" font-weight="bold" style="fill:#7030a0" textLength="11.9" lengthAdjust="spacingAndGlyphs">M</text><text x="231.0" y="186.8" font-size="10.6" font-weight="bold" style="fill:#7030a0" textLength="13.1" lengthAdjust="spacingAndGlyphs">tot</text><text x="249.6" y="183.7" font-size="15.8" font-weight="bold" style="fill:#7030a0" textLength="9.0" lengthAdjust="spacingAndGlyphs">=</text><text x="264.5" y="183.7" font-size="15.8" font-weight="bold" style="fill:#7030a0" textLength="17.5" lengthAdjust="spacingAndGlyphs">10</text><text x="283.8" y="178.4" font-size="12.0" font-weight="bold" style="fill:#7030a0" textLength="6.0" lengthAdjust="spacingAndGlyphs">7</text><text x="295.3" y="183.7" font-size="15.8" font-weight="bold" style="fill:#7030a0" textLength="11.6" lengthAdjust="spacingAndGlyphs">M</text><circle cx="311.9" cy="183.7" r="3.1" fill="none" stroke="#7030a0" stroke-width="1.3"/><circle cx="311.9" cy="183.7" r="1.05" fill="#7030a0"/>
<text x="357.0" y="239.3" font-size="15.8" font-weight="bold" style="fill:#7030a0" textLength="11.9" lengthAdjust="spacingAndGlyphs">M</text><text x="369.7" y="242.4" font-size="10.6" font-weight="bold" style="fill:#7030a0" textLength="13.1" lengthAdjust="spacingAndGlyphs">tot</text><text x="388.3" y="239.3" font-size="15.8" font-weight="bold" style="fill:#7030a0" textLength="9.0" lengthAdjust="spacingAndGlyphs">=</text><text x="403.2" y="239.3" font-size="15.8" font-weight="bold" style="fill:#7030a0" textLength="17.5" lengthAdjust="spacingAndGlyphs">10</text><text x="422.5" y="234.0" font-size="12.0" font-weight="bold" style="fill:#7030a0" textLength="6.0" lengthAdjust="spacingAndGlyphs">6</text><text x="434.0" y="239.3" font-size="15.8" font-weight="bold" style="fill:#7030a0" textLength="11.6" lengthAdjust="spacingAndGlyphs">M</text><circle cx="450.6" cy="239.3" r="3.1" fill="none" stroke="#7030a0" stroke-width="1.3"/><circle cx="450.6" cy="239.3" r="1.05" fill="#7030a0"/>
<text x="508.0" y="298.8" font-size="15.6" font-weight="bold" style="fill:#1ba8c6" textLength="18.2" lengthAdjust="spacingAndGlyphs">10</text><text x="527.0" y="293.2" font-size="11.0" font-weight="bold" style="fill:#1ba8c6" textLength="5.6" lengthAdjust="spacingAndGlyphs">5</text><text x="536.6" y="298.8" font-size="15.6" font-weight="bold" style="fill:#1ba8c6" textLength="11.6" lengthAdjust="spacingAndGlyphs">M</text><circle cx="553.2" cy="298.9" r="3.1" fill="none" stroke="#1ba8c6" stroke-width="1.3"/><circle cx="553.2" cy="298.9" r="1.05" fill="#1ba8c6"/><text x="562.4" y="298.8" font-size="15.6" font-weight="bold" style="fill:#1ba8c6" textLength="8.6" lengthAdjust="spacingAndGlyphs">+</text><text x="574.0" y="298.8" font-size="15.6" font-weight="bold" style="fill:#1ba8c6" textLength="18.2" lengthAdjust="spacingAndGlyphs">10</text><text x="596.2" y="298.8" font-size="15.6" font-weight="bold" style="fill:#1ba8c6" textLength="12.5" lengthAdjust="spacingAndGlyphs">M</text><circle cx="613.3" cy="298.9" r="3.1" fill="none" stroke="#1ba8c6" stroke-width="1.3"/><circle cx="613.3" cy="298.9" r="1.05" fill="#1ba8c6"/>
<text x="74.9" y="512.2" font-size="17" text-anchor="middle">10<tspan font-size="10.5" dy="-6.6">-5</tspan></text><text x="214.8" y="512.2" font-size="17" text-anchor="middle">10<tspan font-size="10.5" dy="-6.6">-4</tspan></text><text x="354.7" y="512.2" font-size="17" text-anchor="middle">10<tspan font-size="10.5" dy="-6.6">-3</tspan></text><text x="494.6" y="512.2" font-size="17" text-anchor="middle">10<tspan font-size="10.5" dy="-6.6">-2</tspan></text><text x="634.5" y="512.2" font-size="17" text-anchor="middle">10<tspan font-size="10.5" dy="-6.6">-1</tspan></text><text x="772.9" y="512.2" font-size="17" text-anchor="middle">10<tspan font-size="10.5" dy="-6.6">0</tspan></text><text x="67.4" y="15.3" font-size="17" text-anchor="end">10<tspan font-size="10.5" dy="-6.6">-14</tspan></text><text x="67.4" y="74.5" font-size="17" text-anchor="end">10<tspan font-size="10.5" dy="-6.6">-15</tspan></text><text x="67.4" y="133.6" font-size="17" text-anchor="end">10<tspan font-size="10.5" dy="-6.6">-16</tspan></text><text x="67.4" y="192.8" font-size="17" text-anchor="end">10<tspan font-size="10.5" dy="-6.6">-17</tspan></text><text x="67.4" y="251.9" font-size="17" text-anchor="end">10<tspan font-size="10.5" dy="-6.6">-18</tspan></text><text x="67.4" y="311.1" font-size="17" text-anchor="end">10<tspan font-size="10.5" dy="-6.6">-19</tspan></text><text x="67.4" y="370.3" font-size="17" text-anchor="end">10<tspan font-size="10.5" dy="-6.6">-20</tspan></text><text x="67.4" y="429.4" font-size="17" text-anchor="end">10<tspan font-size="10.5" dy="-6.6">-21</tspan></text><text x="67.4" y="488.6" font-size="17" text-anchor="end">10<tspan font-size="10.5" dy="-6.6">-22</tspan></text>
<text x="268.7" y="542.4" font-size="20" textLength="332.5" lengthAdjust="spacingAndGlyphs">Gravitational wave frequency (Hz)</text>
<text transform="translate(15.6,401) rotate(-90)" x="0" y="0" font-size="19.5" textLength="306.5" lengthAdjust="spacingAndGlyphs">Characteristic strain amplitude</text>
<text x="498.0" y="42.0" font-size="16.4" textLength="189.7" lengthAdjust="spacingAndGlyphs">AMIGO sensitivity goal</text>
<path d="M703,38.9H755" stroke="#ff0000" stroke-width="4.8" stroke-linecap="round"/>
<text x="582.2" y="63.6" font-size="16.4" textLength="105.5" lengthAdjust="spacingAndGlyphs">Current LISA</text>
<path d="M703,60.5H755" stroke="#0022ff" stroke-width="4.8" stroke-linecap="round"/>
<text x="375.5" y="85.2" font-size="16.4" textLength="312.2" lengthAdjust="spacingAndGlyphs">Black-hole binaries at redshift of z=3</text>
<path d="M703,82.1H755" stroke="#7030a0" stroke-width="3.4" stroke-linecap="round"/>
<text x="412.8" y="106.8" font-size="16.4" textLength="274.9" lengthAdjust="spacingAndGlyphs">EMRI with harmonics at 200 MPc</text>
<path d="M703,103.7H755" stroke="#17b4cc" stroke-width="3.4" stroke-linecap="round"/>
<text x="387.3" y="128.4" font-size="16.4" textLength="300.4" lengthAdjust="spacingAndGlyphs">Estimated galactic binary confusion</text>
<path d="M703,125.3H755" stroke="#808080" stroke-width="3.4" stroke-linecap="round"/>
<text x="515.3" y="150.0" font-size="16.4" textLength="172.4" lengthAdjust="spacingAndGlyphs">Double white dwarfs</text>
<circle cx="727.9" cy="146.9" r="6.1" fill="#548235"/>
<text x="449.4" y="171.6" font-size="16.4" textLength="238.3" lengthAdjust="spacingAndGlyphs">Ultra-compact X-ray binaries</text>
<circle cx="727.9" cy="168.5" r="6.1" fill="#a9d18e"/>
<text x="575.1" y="193.2" font-size="16.4" textLength="112.6" lengthAdjust="spacingAndGlyphs">AM CVn stars</text>
<circle cx="727.9" cy="190.1" r="6.1" fill="#ffc000"/>
<text x="498.2" y="214.8" font-size="16.4" textLength="189.5" lengthAdjust="spacingAndGlyphs">Other galactic binaries</text>
<circle cx="727.9" cy="211.7" r="6.1" fill="#ed7d31"/>
</svg></body></html>
